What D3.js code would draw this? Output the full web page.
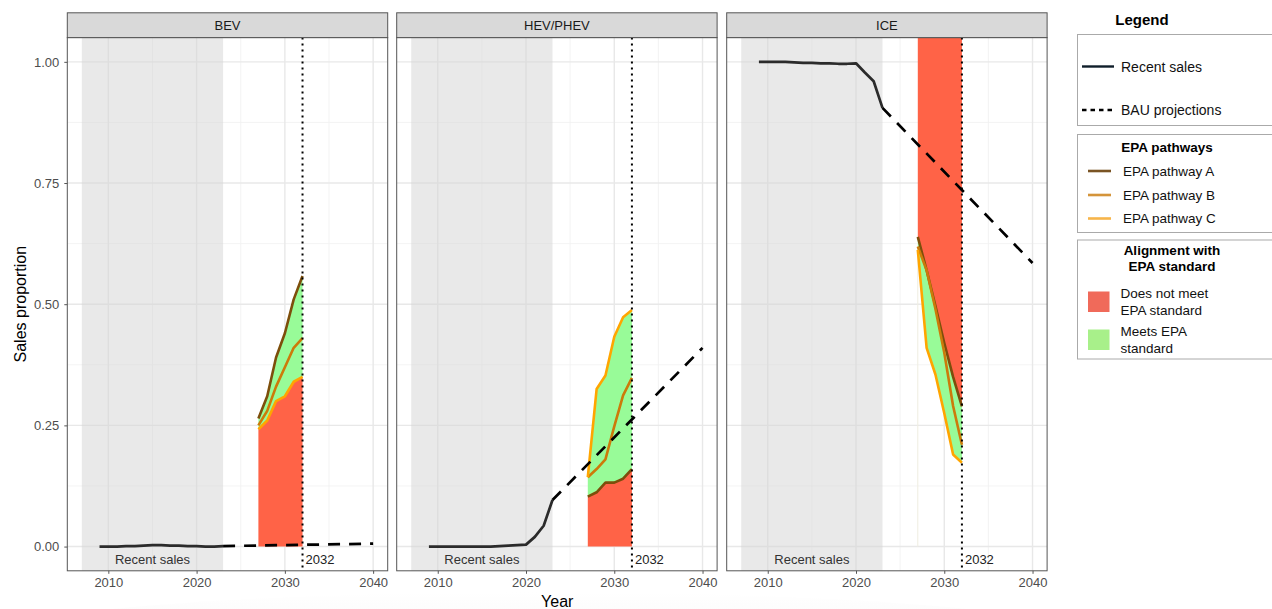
<!DOCTYPE html>
<html>
<head>
<meta charset="utf-8">
<script src="https://cdn.jsdelivr.net/npm/d3@7"></script>
<style>
  body { margin: 0; background: #fff; }
  svg { font-family: "Liberation Sans", Arial, sans-serif; }
</style>
</head>
<body>
<svg width="1272" height="609"></svg>
<script>

/* Datos */

let panels = ['BEV', 'HEV/PHEV', 'ICE']

let recent_years = [2009, 2010, 2011, 2012, 2013, 2014, 2015, 2016, 2017, 2018, 2019, 2020, 2021, 2022, 2023]
let recent_bev = [0.000, 0.000, 0.000, 0.001, 0.001, 0.002, 0.003, 0.003, 0.002, 0.002, 0.001, 0.001, 0.000, 0.000, 0.001]
let recent_hev = [0.000, 0.000, 0.000, 0.000, 0.000, 0.000, 0.000, 0.000, 0.001, 0.002, 0.003, 0.004, 0.020, 0.043, 0.096]
let recent_ice = [1.000, 1.000, 1.000, 1.000, 0.999, 0.998, 0.998, 0.997, 0.997, 0.996, 0.996, 0.997, 0.978, 0.960, 0.905]

let bau_years = [2023, 2040]
let bau_bev = [0.001, 0.006]
let bau_hev = [0.096, 0.410]
let bau_ice = [0.905, 0.585]

let epa_years = [2027, 2028, 2029, 2030, 2031, 2032]
let bev_a = [0.264, 0.310, 0.390, 0.440, 0.510, 0.558]
let bev_b = [0.250, 0.280, 0.330, 0.370, 0.410, 0.430]
let bev_c = [0.242, 0.260, 0.300, 0.310, 0.340, 0.350]
let hev_a = [0.103, 0.112, 0.132, 0.132, 0.140, 0.160]
let hev_b = [0.143, 0.160, 0.180, 0.248, 0.312, 0.348]
let hev_c = [0.143, 0.325, 0.353, 0.433, 0.473, 0.488]
let ice_a = [0.639, 0.570, 0.496, 0.420, 0.350, 0.289]
let ice_b = [0.619, 0.570, 0.490, 0.400, 0.290, 0.210]
let ice_c = [0.612, 0.410, 0.355, 0.275, 0.190, 0.173]

// ICE: lo que no cumple queda por encima
let red_above = [false, false, true]

let x_ticks = [2010, 2020, 2030, 2040]
let x_minor = [2015, 2025, 2035]
let y_ticks = [0, 0.25, 0.5, 0.75, 1]
let y_minor = [0.125, 0.375, 0.625, 0.875]

let historic_span = [2007, 2023]
let target_year = 2032

let pathway_names = ['EPA pathway A', 'EPA pathway B', 'EPA pathway C']
let pathway_colors = ['#7d4e0b', '#cc7a0a', '#ffa500']
let pathway_legend_colors = ['#7a5424', '#d4943a', '#f7b54a']
let align_names = [['Does not meet', 'EPA standard'], ['Meets EPA', 'standard']]
let align_colors = ['#f06a5a', '#a8f08a']

let red = '#ff6347'
let green = '#98fb98'


let zip = (xs, ys) => xs.map((d, i) => [d, ys[i]])

let datos = [
  {recent: recent_bev, bau: bau_bev, paths: [bev_a, bev_b, bev_c]},
  {recent: recent_hev, bau: bau_hev, paths: [hev_a, hev_b, hev_c]},
  {recent: recent_ice, bau: bau_ice, paths: [ice_a, ice_b, ice_c]}
]



/* Lienzo */

let svg = d3.select('svg')

let top_y = 37.6
let alto = 533.2
let ancho = 320.4
let lefts = [67.3, 396.7, 726.7]
let strip_h = 24.8

let x = d3.scaleLinear().domain([2005.35, 2041.65]).range([0, ancho])
let y = d3.scaleLinear().domain([-0.05, 1.05]).range([alto, 0])

let line = d3.line().x(d => x(d[0])).y(d => y(d[1]))
let area = d3.area().x(d => x(d[0])).y0(d => y(d[1])).y1(d => y(d[2]))

// sombra tenue abajo
let grad = svg.append('defs').append('linearGradient')
  .attr('id', 'sombra').attr('x1', 0).attr('x2', 0).attr('y1', 0).attr('y2', 1)
grad.append('stop').attr('offset', '0%').attr('stop-color', '#ffffff')
grad.append('stop').attr('offset', '100%').attr('stop-color', '#f1f1f1')
svg.append('ellipse')
  .attr('cx', 540).attr('cy', 640).attr('rx', 560).attr('ry', 48)
  .attr('fill', 'url(#sombra)')



/* Paneles */

datos.forEach((p, i) => {

  let g = svg.append('g').attr('transform', `translate(${lefts[i]}, ${top_y})`)

  g.append('clipPath').attr('id', 'clip' + i)
    .append('rect').attr('width', ancho).attr('height', alto)

  g.append('rect').attr('width', ancho).attr('height', alto).attr('fill', '#fff')

  let cuerpo = g.append('g').attr('clip-path', `url(#clip${i})`)

  // rejilla
  cuerpo.selectAll('line.minx').data(x_minor).enter().append('line')
    .attr('x1', d => x(d)).attr('x2', d => x(d)).attr('y1', 0).attr('y2', alto)
    .attr('stroke', '#f0f0f0').attr('stroke-width', 0.8)
  cuerpo.selectAll('line.miny').data(y_minor).enter().append('line')
    .attr('y1', d => y(d)).attr('y2', d => y(d)).attr('x1', 0).attr('x2', ancho)
    .attr('stroke', '#f0f0f0').attr('stroke-width', 0.8)
  cuerpo.selectAll('line.majx').data(x_ticks).enter().append('line')
    .attr('x1', d => x(d)).attr('x2', d => x(d)).attr('y1', 0).attr('y2', alto)
    .attr('stroke', '#e8e8e8').attr('stroke-width', 1.4)
  cuerpo.selectAll('line.majy').data(y_ticks).enter().append('line')
    .attr('y1', d => y(d)).attr('y2', d => y(d)).attr('x1', 0).attr('x2', ancho)
    .attr('stroke', '#e8e8e8').attr('stroke-width', 1.4)

  // periodo de ventas recientes
  cuerpo.append('rect')
    .attr('x', x(historic_span[0])).attr('width', x(historic_span[1]) - x(historic_span[0]))
    .attr('y', 0).attr('height', alto)
    .attr('fill', '#d3d3d3').attr('opacity', 0.5)

  // bandas EPA
  let lo = epa_years.map((yr, k) => d3.min(p.paths, s => s[k]))
  let hi = epa_years.map((yr, k) => d3.max(p.paths, s => s[k]))

  let red_band = red_above[i]
    ? epa_years.map((yr, k) => [yr, hi[k], y.domain()[1]])
    : epa_years.map((yr, k) => [yr, 0, lo[k]])
  let green_band = epa_years.map((yr, k) => [yr, lo[k], hi[k]])

  if (red_above[i]) {
    cuerpo.append('line')
      .attr('x1', x(epa_years[0])).attr('x2', x(epa_years[0]))
      .attr('y1', y(0)).attr('y2', y(lo[0]))
      .attr('stroke', '#efede0').attr('stroke-width', 1)
  }

  cuerpo.append('path').attr('d', area(red_band)).attr('fill', red)
  cuerpo.append('path').attr('d', area(green_band)).attr('fill', green)

  // trayectorias
  cuerpo.selectAll('path.via').data(p.paths).enter().append('path')
    .attr('d', s => line(zip(epa_years, s)))
    .attr('fill', 'none')
    .attr('stroke', (s, k) => pathway_colors[k])
    .attr('stroke-width', 2.6)
    .attr('stroke-linejoin', 'round')

  // ventas recientes y proyeccion BAU
  cuerpo.append('path')
    .attr('d', line(zip(recent_years, p.recent)))
    .attr('fill', 'none').attr('stroke', '#2b2b2b').attr('stroke-width', 2.7)
    .attr('stroke-linejoin', 'round')

  cuerpo.append('path')
    .attr('d', line(zip(bau_years, p.bau)))
    .attr('fill', 'none').attr('stroke', '#000').attr('stroke-width', 2.7)
    .attr('stroke-dasharray', '12,9')

  // 2032
  cuerpo.append('line')
    .attr('x1', x(target_year)).attr('x2', x(target_year)).attr('y1', 0).attr('y2', alto)
    .attr('stroke', '#000').attr('stroke-width', 2).attr('stroke-dasharray', '2,4')

  g.append('text')
    .attr('x', x(d3.mean(historic_span))).attr('y', y(-0.027))
    .attr('text-anchor', 'middle').attr('dominant-baseline', 'central')
    .attr('font-size', 13).attr('fill', '#333')
    .text('Recent sales')

  g.append('text')
    .attr('x', x(target_year) + 3).attr('y', y(-0.027))
    .attr('dominant-baseline', 'central')
    .attr('font-size', 13).attr('fill', '#222')
    .text(target_year)

  // borde y cabecera
  g.append('rect').attr('width', ancho).attr('height', alto)
    .attr('fill', 'none').attr('stroke', '#555').attr('stroke-width', 1)

  g.append('rect').attr('y', -strip_h).attr('width', ancho).attr('height', strip_h)
    .attr('fill', '#d9d9d9').attr('stroke', '#555').attr('stroke-width', 1)
  g.append('text')
    .attr('x', ancho / 2).attr('y', -strip_h / 2)
    .attr('text-anchor', 'middle').attr('dominant-baseline', 'central')
    .attr('font-size', 13).attr('fill', '#1a1a1a')
    .text(panels[i])

  // ejes
  let ax = g.append('g').attr('transform', `translate(0, ${alto})`)
    .call(d3.axisBottom(x).tickValues(x_ticks).tickFormat(d3.format('d')).tickSize(3).tickPadding(4))
  ax.select('.domain').remove()
  ax.selectAll('line').attr('stroke', '#555')
  ax.selectAll('text').attr('font-size', 13).attr('fill', '#4d4d4d')
    .attr('font-family', '"Liberation Sans", Arial, sans-serif')

  if (i == 0) {
    let ay = g.append('g')
      .call(d3.axisLeft(y).tickValues(y_ticks).tickFormat(d3.format('.2f')).tickSize(3).tickPadding(5))
    ay.select('.domain').remove()
    ay.selectAll('line').attr('stroke', '#555')
    ay.selectAll('text').attr('font-size', 13).attr('fill', '#4d4d4d')
      .attr('font-family', '"Liberation Sans", Arial, sans-serif')
  }

})


svg.append('text')
  .attr('transform', `translate(20, ${top_y + alto / 2}) rotate(-90)`)
  .attr('text-anchor', 'middle').attr('dominant-baseline', 'central')
  .attr('font-size', 16).attr('fill', '#000')
  .text('Sales proportion')

svg.append('text')
  .attr('x', (lefts[0] + lefts[2] + ancho) / 2).attr('y', 607)
  .attr('text-anchor', 'middle')
  .attr('font-size', 16).attr('fill', '#000')
  .text('Year')



/* Leyenda */

let ley = svg.append('g')

ley.append('text')
  .attr('x', 1142).attr('y', 19.5)
  .attr('text-anchor', 'middle').attr('dominant-baseline', 'central')
  .attr('font-size', 15).attr('font-weight', 'bold')
  .text('Legend')

let cajas = [[34.5, 125.5], [134.5, 232.5], [240, 359]]
ley.selectAll('rect.caja').data(cajas).enter().append('rect')
  .attr('x', 1077.5).attr('y', d => d[0])
  .attr('width', 220).attr('height', d => d[1] - d[0])
  .attr('fill', '#fff').attr('stroke', '#aaa').attr('stroke-width', 1)

// caja 1
ley.append('line').attr('x1', 1082).attr('x2', 1114).attr('y1', 66.5).attr('y2', 66.5)
  .attr('stroke', '#0f1e2a').attr('stroke-width', 2.4)
ley.append('line').attr('x1', 1082).attr('x2', 1114).attr('y1', 110).attr('y2', 110)
  .attr('stroke', '#000').attr('stroke-width', 2.4).attr('stroke-dasharray', '4.5,4')

ley.selectAll('text.l1').data([['Recent sales', 66.5], ['BAU projections', 110]]).enter().append('text')
  .attr('x', 1121).attr('y', d => d[1])
  .attr('dominant-baseline', 'central').attr('font-size', 14).attr('fill', '#111')
  .text(d => d[0])

// caja 2
ley.append('text')
  .attr('x', 1167).attr('y', 147)
  .attr('text-anchor', 'middle').attr('dominant-baseline', 'central')
  .attr('font-size', 13.5).attr('font-weight', 'bold')
  .text('EPA pathways')

let via_y = [171, 195, 218.5]
ley.selectAll('line.via').data(pathway_names).enter().append('line')
  .attr('x1', 1088).attr('x2', 1111)
  .attr('y1', (d, k) => via_y[k]).attr('y2', (d, k) => via_y[k])
  .attr('stroke', (d, k) => pathway_legend_colors[k]).attr('stroke-width', 2.6)
ley.selectAll('text.via').data(pathway_names).enter().append('text')
  .attr('x', 1123).attr('y', (d, k) => via_y[k])
  .attr('dominant-baseline', 'central').attr('font-size', 13.5).attr('fill', '#111')
  .text(d => d)

// caja 3
ley.selectAll('text.t3').data(['Alignment with', 'EPA standard']).enter().append('text')
  .attr('x', 1172).attr('y', (d, k) => 250 + k * 16.7)
  .attr('text-anchor', 'middle').attr('dominant-baseline', 'central')
  .attr('font-size', 13.5).attr('font-weight', 'bold')
  .text(d => d)

let cuad_y = [291.5, 329.5]
ley.selectAll('rect.al').data(align_colors).enter().append('rect')
  .attr('x', 1088).attr('y', (d, k) => cuad_y[k])
  .attr('width', 21.5).attr('height', 20.5)
  .attr('fill', d => d)

align_names.forEach((lineas, k) => {
  ley.selectAll('text.al' + k).data(lineas).enter().append('text')
    .attr('x', 1120.5).attr('y', (d, j) => cuad_y[k] + 2 + j * 16.8)
    .attr('dominant-baseline', 'central').attr('font-size', 13.5).attr('fill', '#111')
    .text(d => d)
})

</script>
</body>
</html>
